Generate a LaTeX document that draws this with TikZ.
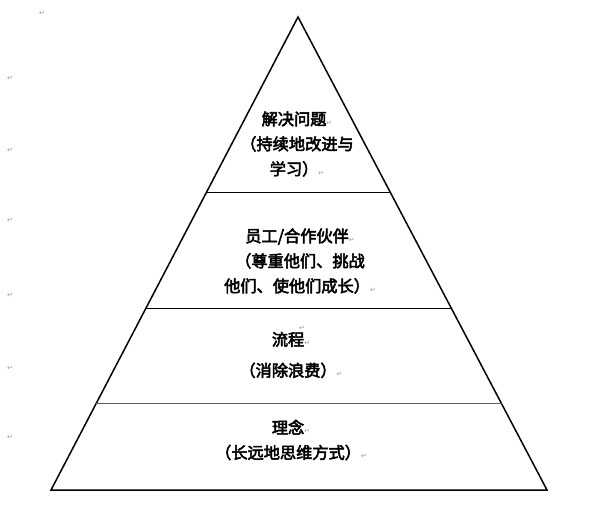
\documentclass[tikz,border=0pt]{standalone}
\usepackage{fontspec}
\usetikzlibrary{calc}
\newfontfamily\cjk{Noto Sans CJK SC}[FakeBold=3.2]
\newfontfamily\symfont{DejaVu Sans}
\newcommand{\rmk}{{\symfont\fontsize{7}{7}\selectfont\color{black!40}↵}}

\begin{document}
\begin{tikzpicture}[x=1pt, y=-1pt,
  lbl/.style={font=\cjk\fontsize{16.2}{25}\selectfont, align=center, inner sep=0pt},
  mk/.style={font=\symfont\fontsize{7}{7}\selectfont, text=black!40, inner sep=0pt}]
  \useasboundingbox (0,0) rectangle (597,504);

  % pyramid outline
  \coordinate (top) at (298,17);
  \coordinate (bl) at (51,490);
  \coordinate (br) at (547,490);
  \draw[line width=1.5pt, line join=miter] (top) -- (bl) -- (br) -- cycle;

  % levels
  \foreach \t/\cc in {0.372/black, 0.617/black, 0.818/black!65} {
    \draw[line width=1pt, \cc] ($(top)!\t!(bl)$) -- ($(top)!\t!(br)$);
  }

  % texts
  \node[lbl] (solve) at (297,144) {解决问题\rmk\\（持续地改进与\\学习）\rmk};
  \node[lbl] (staff) at (300,261) {员工/合作伙伴\rmk\\（尊重他们、挑战\\他们、使他们成长）\rmk};
  \node[lbl] (flow) at (291,355) {流程\rmk\\[6pt]（消除浪费）\rmk};
  \node[lbl] (idea) at (291,440) {理念\rmk\\（长远地思维方式）\rmk};
  \node[mk] (flowmk) at (302,328) {↵};

  % paragraph marks in the margin
  \node[mk] (m0) at (42,13) {↵};
  \foreach \yy [count=\i] in {78,150,220,295,368,437} {
    \node[mk] (m\i) at (10,\yy) {↵};
  }
\end{tikzpicture}
\end{document}
